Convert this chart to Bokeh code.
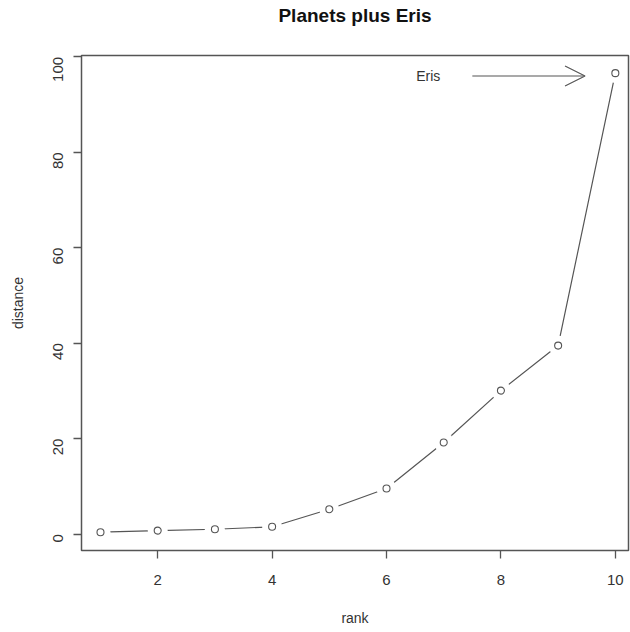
import math
from bokeh.plotting import figure
from bokeh.models import FixedTicker, Arrow, OpenHead, Range1d, Title
from bokeh.core.properties import value
from bokeh.embed import file_html
from bokeh.resources import INLINE

rank = [1, 2, 3, 4, 5, 6, 7, 8, 9, 10]
distance = [0.39, 0.72, 1.0, 1.52, 5.2, 9.54, 19.2, 30.06, 39.5, 96.6]
x_ticks = [2, 4, 6, 8, 10]
y_ticks = [0, 20, 40, 60, 80, 100]
title_text = "Planets plus Eris"

FONT = "Liberation Sans"
INK = "#333333"
LINE = "#555555"

p = figure(width=630, height=632, output_backend="svg", toolbar_location=None,
           x_range=Range1d(0.668, 10.23), y_range=Range1d(-3.45, 100.3),
           min_border_left=81, min_border_right=2, min_border_top=55, min_border_bottom=82)
p.background_fill_color = "white"
p.border_fill_color = "white"
p.outline_line_color = "#555555"
p.outline_line_width = 1.5
p.grid.visible = False

# spacer panel next to the frame, then the real title above it
spacer = Title(text=" ", text_font=FONT, text_font_size="25px", offset=0, standoff=0)
p.add_layout(spacer, "above")
t = Title(text=title_text, align="center", text_font=FONT,
          text_font_size="19px", text_font_style="bold", text_color="#111111",
          offset=0, standoff=0)
p.add_layout(t, "above")

for ax in (p.xaxis[0], p.yaxis[0]):
    ax.axis_line_color = None
    ax.major_tick_out = 8
    ax.major_tick_in = 0
    ax.minor_tick_out = 0
    ax.minor_tick_in = 0
    ax.major_tick_line_color = "#555555"
    ax.major_tick_line_width = 1.3
    ax.major_label_text_font = FONT
    ax.major_label_text_font_size = "15px"
    ax.major_label_text_color = INK
    ax.axis_label_text_font = FONT
    ax.axis_label_text_font_size = "14px"
    ax.axis_label_text_font_style = "normal"
    ax.axis_label_text_color = INK

p.xaxis.ticker = FixedTicker(ticks=x_ticks)
p.yaxis.ticker = FixedTicker(ticks=y_ticks)
p.xaxis.axis_label = "rank"
p.yaxis.axis_label = "distance"
p.xaxis.major_label_standoff = 16
p.xaxis.axis_label_standoff = 22
p.yaxis.major_label_standoff = 15
p.yaxis.axis_label_standoff = 20
p.yaxis.major_label_orientation = math.pi / 2

# line with gaps around points (R type="b")
p.line(rank, distance, line_color=LINE, line_width=1.2)
p.scatter(rank, distance, size=20, fill_color="white", line_color=None)
p.scatter(rank, distance, size=7, fill_color="white", line_color=LINE, line_width=1.1)

p.add_layout(Arrow(end=OpenHead(size=20, line_width=1.2, line_color=LINE),
                   x_start=7.5, y_start=96.0, x_end=9.47, y_end=96.0,
                   line_color=LINE, line_width=1.2))
p.text(x=[6.73], y=[96.0], text=["Eris"], text_font=value(FONT), text_font_size="14px",
       text_color=INK, text_align="center", text_baseline="middle")

open("out.html", "w").write(file_html(p, INLINE))
